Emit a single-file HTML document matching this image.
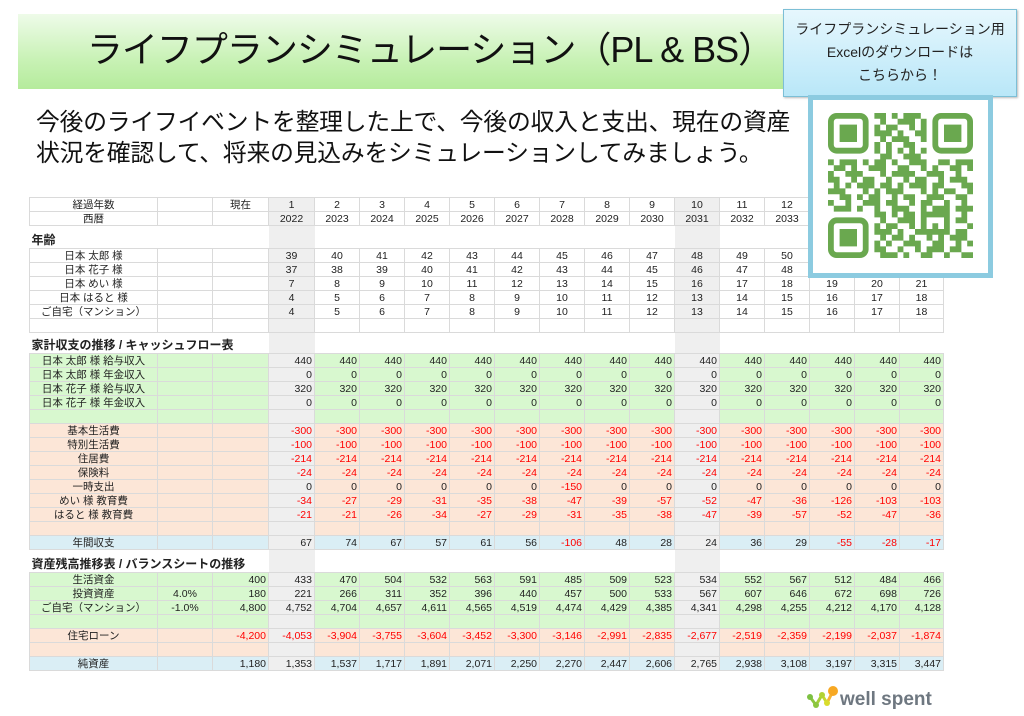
<!DOCTYPE html>
<html><head><meta charset="utf-8">
<style>
*{margin:0;padding:0;box-sizing:border-box}
body{width:1024px;height:716px;background:#fff;position:relative;overflow:hidden;font-family:"Liberation Sans","Noto Sans CJK JP",sans-serif;color:#222}
.banner{position:absolute;left:18px;top:14px;width:770px;height:75px;background:linear-gradient(180deg,#eefbe9 0%,#c9f2b6 60%,#b5eb9c 100%)}
.title{position:absolute;left:70px;top:22px;width:720px;text-align:center;font-size:36px;line-height:56px;color:#111;letter-spacing:-1px}
.sub{position:absolute;left:36px;top:107px;font-size:23.8px;line-height:31px;color:#111;letter-spacing:-0.2px}
.call{position:absolute;left:783px;top:9px;width:234px;height:88px;border:1px solid #7cbfd6;background:linear-gradient(180deg,#e6f7fd,#b9e7f8);text-align:center;font-size:14px;line-height:23px;padding-top:8px;color:#222;box-shadow:1px 1px 2px #bbb}
.qrf{position:absolute;left:808px;top:95px;width:185px;height:183px;border:5px solid #8ccbe0;background:#fff}
.qr{position:absolute;left:828px;top:113px}
table{position:absolute;left:29px;top:197px;border-collapse:collapse;table-layout:fixed;width:914px;font-size:10.5px}
td{border:1px solid #dadada;padding:0 2px;text-align:right;white-space:nowrap;overflow:visible;line-height:12px;height:14px;background:#fff}
td:first-child{text-align:center}
tr.h td{text-align:center}
tr.s td{border:none;background:#fff;text-align:left;font-weight:bold;font-size:12px;vertical-align:bottom;padding-bottom:2px}
tr.g td{background:#d8f8cf}
tr.o td{background:#fce6d7}
tr.b td{background:#daeef5}
tr td:nth-child(4),tr td:nth-child(13){background:#efefef}
.r{color:#f00}
.logo{position:absolute;left:806px;top:683px}
</style></head><body>
<div class="banner"></div>
<div class="title">ライフプランシミュレーション（PL &amp; BS）</div>
<div class="sub">今後のライフイベントを整理した上で、今後の収入と支出、現在の資産<br>状況を確認して、将来の見込みをシミュレーションしてみましょう。</div>

<table>
<colgroup><col style="width:128px"><col style="width:55px"><col style="width:56px">
<col style="width:46px"><col style="width:45px"><col style="width:45px"><col style="width:45px"><col style="width:45px"><col style="width:45px"><col style="width:45px"><col style="width:45px"><col style="width:45px"><col style="width:45px"><col style="width:45px"><col style="width:45px"><col style="width:45px"><col style="width:45px"><col style="width:44px"></colgroup>
<tr class="h"><td>経過年数</td><td></td><td>現在</td><td>1</td><td>2</td><td>3</td><td>4</td><td>5</td><td>6</td><td>7</td><td>8</td><td>9</td><td>10</td><td>11</td><td>12</td><td>13</td><td>14</td><td>15</td></tr>
<tr class="h"><td>西暦</td><td></td><td></td><td>2022</td><td>2023</td><td>2024</td><td>2025</td><td>2026</td><td>2027</td><td>2028</td><td>2029</td><td>2030</td><td>2031</td><td>2032</td><td>2033</td><td>2034</td><td>2035</td><td>2036</td></tr>
<tr class="s" style="height:23px"><td style="height:23px">年齢</td><td></td><td></td><td></td><td></td><td></td><td></td><td></td><td></td><td></td><td></td><td></td><td></td><td></td><td></td><td></td><td></td><td></td></tr>
<tr class="h"><td>日本 太郎 様</td><td></td><td></td><td>39</td><td>40</td><td>41</td><td>42</td><td>43</td><td>44</td><td>45</td><td>46</td><td>47</td><td>48</td><td>49</td><td>50</td><td>51</td><td>52</td><td>53</td></tr>
<tr class="h"><td>日本 花子 様</td><td></td><td></td><td>37</td><td>38</td><td>39</td><td>40</td><td>41</td><td>42</td><td>43</td><td>44</td><td>45</td><td>46</td><td>47</td><td>48</td><td>49</td><td>50</td><td>51</td></tr>
<tr class="h"><td>日本 めい 様</td><td></td><td></td><td>7</td><td>8</td><td>9</td><td>10</td><td>11</td><td>12</td><td>13</td><td>14</td><td>15</td><td>16</td><td>17</td><td>18</td><td>19</td><td>20</td><td>21</td></tr>
<tr class="h"><td>日本 はると 様</td><td></td><td></td><td>4</td><td>5</td><td>6</td><td>7</td><td>8</td><td>9</td><td>10</td><td>11</td><td>12</td><td>13</td><td>14</td><td>15</td><td>16</td><td>17</td><td>18</td></tr>
<tr class="h"><td>ご自宅（マンション）</td><td></td><td></td><td>4</td><td>5</td><td>6</td><td>7</td><td>8</td><td>9</td><td>10</td><td>11</td><td>12</td><td>13</td><td>14</td><td>15</td><td>16</td><td>17</td><td>18</td></tr>
<tr class="h"><td></td><td></td><td></td><td></td><td></td><td></td><td></td><td></td><td></td><td></td><td></td><td></td><td></td><td></td><td></td><td></td><td></td><td></td></tr>
<tr class="s" style="height:21px"><td style="height:21px">家計収支の推移 / キャッシュフロー表</td><td></td><td></td><td></td><td></td><td></td><td></td><td></td><td></td><td></td><td></td><td></td><td></td><td></td><td></td><td></td><td></td><td></td></tr>
<tr class="g"><td>日本 太郎 様 給与収入</td><td></td><td></td><td>440</td><td>440</td><td>440</td><td>440</td><td>440</td><td>440</td><td>440</td><td>440</td><td>440</td><td>440</td><td>440</td><td>440</td><td>440</td><td>440</td><td>440</td></tr>
<tr class="g"><td>日本 太郎 様 年金収入</td><td></td><td></td><td>0</td><td>0</td><td>0</td><td>0</td><td>0</td><td>0</td><td>0</td><td>0</td><td>0</td><td>0</td><td>0</td><td>0</td><td>0</td><td>0</td><td>0</td></tr>
<tr class="g"><td>日本 花子 様 給与収入</td><td></td><td></td><td>320</td><td>320</td><td>320</td><td>320</td><td>320</td><td>320</td><td>320</td><td>320</td><td>320</td><td>320</td><td>320</td><td>320</td><td>320</td><td>320</td><td>320</td></tr>
<tr class="g"><td>日本 花子 様 年金収入</td><td></td><td></td><td>0</td><td>0</td><td>0</td><td>0</td><td>0</td><td>0</td><td>0</td><td>0</td><td>0</td><td>0</td><td>0</td><td>0</td><td>0</td><td>0</td><td>0</td></tr>
<tr class="g"><td></td><td></td><td></td><td></td><td></td><td></td><td></td><td></td><td></td><td></td><td></td><td></td><td></td><td></td><td></td><td></td><td></td><td></td></tr>
<tr class="o r"><td style="color:#222">基本生活費</td><td></td><td></td><td>-300</td><td>-300</td><td>-300</td><td>-300</td><td>-300</td><td>-300</td><td>-300</td><td>-300</td><td>-300</td><td>-300</td><td>-300</td><td>-300</td><td>-300</td><td>-300</td><td>-300</td></tr>
<tr class="o r"><td style="color:#222">特別生活費</td><td></td><td></td><td>-100</td><td>-100</td><td>-100</td><td>-100</td><td>-100</td><td>-100</td><td>-100</td><td>-100</td><td>-100</td><td>-100</td><td>-100</td><td>-100</td><td>-100</td><td>-100</td><td>-100</td></tr>
<tr class="o r"><td style="color:#222">住居費</td><td></td><td></td><td>-214</td><td>-214</td><td>-214</td><td>-214</td><td>-214</td><td>-214</td><td>-214</td><td>-214</td><td>-214</td><td>-214</td><td>-214</td><td>-214</td><td>-214</td><td>-214</td><td>-214</td></tr>
<tr class="o r"><td style="color:#222">保険料</td><td></td><td></td><td>-24</td><td>-24</td><td>-24</td><td>-24</td><td>-24</td><td>-24</td><td>-24</td><td>-24</td><td>-24</td><td>-24</td><td>-24</td><td>-24</td><td>-24</td><td>-24</td><td>-24</td></tr>
<tr class="o"><td>一時支出</td><td></td><td></td><td>0</td><td>0</td><td>0</td><td>0</td><td>0</td><td>0</td><td class="r">-150</td><td>0</td><td>0</td><td>0</td><td>0</td><td>0</td><td>0</td><td>0</td><td>0</td></tr>
<tr class="o r"><td style="color:#222">めい 様 教育費</td><td></td><td></td><td>-34</td><td>-27</td><td>-29</td><td>-31</td><td>-35</td><td>-38</td><td>-47</td><td>-39</td><td>-57</td><td>-52</td><td>-47</td><td>-36</td><td>-126</td><td>-103</td><td>-103</td></tr>
<tr class="o r"><td style="color:#222">はると 様 教育費</td><td></td><td></td><td>-21</td><td>-21</td><td>-26</td><td>-34</td><td>-27</td><td>-29</td><td>-31</td><td>-35</td><td>-38</td><td>-47</td><td>-39</td><td>-57</td><td>-52</td><td>-47</td><td>-36</td></tr>
<tr class="o"><td></td><td></td><td></td><td></td><td></td><td></td><td></td><td></td><td></td><td></td><td></td><td></td><td></td><td></td><td></td><td></td><td></td><td></td></tr>
<tr class="b"><td>年間収支</td><td></td><td></td><td>67</td><td>74</td><td>67</td><td>57</td><td>61</td><td>56</td><td class="r">-106</td><td>48</td><td>28</td><td>24</td><td>36</td><td>29</td><td class="r">-55</td><td class="r">-28</td><td class="r">-17</td></tr>
<tr class="s" style="height:23px"><td style="height:23px">資産残高推移表 / バランスシートの推移</td><td></td><td></td><td></td><td></td><td></td><td></td><td></td><td></td><td></td><td></td><td></td><td></td><td></td><td></td><td></td><td></td><td></td></tr>
<tr class="g"><td>生活資金</td><td></td><td>400</td><td>433</td><td>470</td><td>504</td><td>532</td><td>563</td><td>591</td><td>485</td><td>509</td><td>523</td><td>534</td><td>552</td><td>567</td><td>512</td><td>484</td><td>466</td></tr>
<tr class="g"><td>投資資産</td><td style="text-align:center">4.0%</td><td>180</td><td>221</td><td>266</td><td>311</td><td>352</td><td>396</td><td>440</td><td>457</td><td>500</td><td>533</td><td>567</td><td>607</td><td>646</td><td>672</td><td>698</td><td>726</td></tr>
<tr class="g"><td>ご自宅（マンション）</td><td style="text-align:center">-1.0%</td><td>4,800</td><td>4,752</td><td>4,704</td><td>4,657</td><td>4,611</td><td>4,565</td><td>4,519</td><td>4,474</td><td>4,429</td><td>4,385</td><td>4,341</td><td>4,298</td><td>4,255</td><td>4,212</td><td>4,170</td><td>4,128</td></tr>
<tr class="g"><td></td><td></td><td></td><td></td><td></td><td></td><td></td><td></td><td></td><td></td><td></td><td></td><td></td><td></td><td></td><td></td><td></td><td></td></tr>
<tr class="o r"><td style="color:#222">住宅ローン</td><td></td><td>-4,200</td><td>-4,053</td><td>-3,904</td><td>-3,755</td><td>-3,604</td><td>-3,452</td><td>-3,300</td><td>-3,146</td><td>-2,991</td><td>-2,835</td><td>-2,677</td><td>-2,519</td><td>-2,359</td><td>-2,199</td><td>-2,037</td><td>-1,874</td></tr>
<tr class="o"><td></td><td></td><td></td><td></td><td></td><td></td><td></td><td></td><td></td><td></td><td></td><td></td><td></td><td></td><td></td><td></td><td></td><td></td></tr>
<tr class="b"><td>純資産</td><td></td><td>1,180</td><td>1,353</td><td>1,537</td><td>1,717</td><td>1,891</td><td>2,071</td><td>2,250</td><td>2,270</td><td>2,447</td><td>2,606</td><td>2,765</td><td>2,938</td><td>3,108</td><td>3,197</td><td>3,315</td><td>3,447</td></tr>
</table>

<div class="call">ライフプランシミュレーション用<br>Excelのダウンロードは<br>こちらから！</div>
<div class="qrf"></div>
<svg class="qr" width="145" height="145" viewBox="0 0 25 25">
<g fill="none" stroke="#6aa84f" stroke-width="1">
<rect x="0.5" y="0.5" width="6" height="6" rx="1"/><rect x="18.5" y="0.5" width="6" height="6" rx="1"/><rect x="0.5" y="18.5" width="6" height="6" rx="1"/>
<path d="M8 0.5h2M11 0.5h1M13 0.5h3M9 1.5h1M12 1.5h3M16 1.5h1M8 2.5h1M10 2.5h2M14 2.5h1M16 2.5h1M8 3.5h3M12 3.5h1M15 3.5h2M9 4.5h1M11 4.5h3M16 4.5h1M8 5.5h1M10 5.5h1M13 5.5h2M8 6.5h1M10 6.5h1M12 6.5h1M14 6.5h1M16 6.5h1M9 7.5h2M13 7.5h3M0 8.5h1M2 8.5h3M6 8.5h1M8 8.5h2M11 8.5h1M14 8.5h3M19 8.5h2M22 8.5h3M1 9.5h2M4 9.5h1M7 9.5h3M12 9.5h2M16 9.5h1M18 9.5h1M21 9.5h2M24 9.5h1M0 10.5h1M3 10.5h3M9 10.5h1M11 10.5h4M17 10.5h3M22 10.5h1M0 11.5h2M4 11.5h1M6 11.5h2M10 11.5h1M13 11.5h1M15 11.5h2M19 11.5h1M21 11.5h3M1 12.5h1M3 12.5h1M5 12.5h3M9 12.5h2M12 12.5h1M14 12.5h3M18 12.5h2M23 12.5h2M0 13.5h3M6 13.5h1M8 13.5h1M10 13.5h3M16 13.5h1M18 13.5h1M20 13.5h2M24 13.5h1M2 14.5h2M5 14.5h1M7 14.5h2M11 14.5h1M13 14.5h2M17 14.5h3M22 14.5h2M0 15.5h1M3 15.5h1M6 15.5h3M10 15.5h2M14 15.5h1M16 15.5h2M20 15.5h1M23 15.5h1M1 16.5h3M5 16.5h1M8 16.5h1M11 16.5h3M16 16.5h1M18 16.5h3M22 16.5h3M8 17.5h2M11 17.5h1M13 17.5h2M16 17.5h5M23 17.5h1M9 18.5h1M12 18.5h3M16 18.5h1M20 18.5h1M22 18.5h2M8 19.5h1M10 19.5h2M14 19.5h1M16 19.5h1M18 19.5h1M20 19.5h1M24 19.5h1M8 20.5h3M12 20.5h1M15 20.5h6M22 20.5h2M9 21.5h1M11 21.5h2M14 21.5h1M17 21.5h1M19 21.5h1M21 21.5h3M8 22.5h1M10 22.5h1M13 22.5h3M18 22.5h2M22 22.5h1M24 22.5h1M8 23.5h2M12 23.5h1M15 23.5h1M17 23.5h3M21 23.5h2M9 24.5h3M13 24.5h1M16 24.5h2M20 24.5h1M23 24.5h2"/>
</g>
<g fill="#6aa84f"><rect x="2" y="2" width="3" height="3"/><rect x="20" y="2" width="3" height="3"/><rect x="2" y="20" width="3" height="3"/></g>
</svg>

<div class="logo">
<svg width="140" height="28" viewBox="0 0 140 28">
<line x1="4" y1="14" x2="10" y2="22" stroke="#8cc63f" stroke-width="3"/>
<line x1="10" y1="22" x2="16" y2="12" stroke="#a6cf38" stroke-width="3"/>
<line x1="16" y1="12" x2="21" y2="20" stroke="#c4d82e" stroke-width="3"/>
<line x1="21" y1="20" x2="27" y2="8" stroke="#f5b335" stroke-width="3"/>
<circle cx="4" cy="14" r="3" fill="#7dc142"/><circle cx="10" cy="22" r="3" fill="#8cc63f"/><circle cx="16" cy="12" r="3" fill="#b2d235"/><circle cx="21" cy="20" r="3" fill="#d9dc2c"/><circle cx="27" cy="8" r="5" fill="#f7a823"/>
<text x="34" y="22" font-family="Liberation Sans, sans-serif" font-weight="bold" font-size="19" fill="#6e7780">well spent</text>
</svg>
</div>
</body></html>
